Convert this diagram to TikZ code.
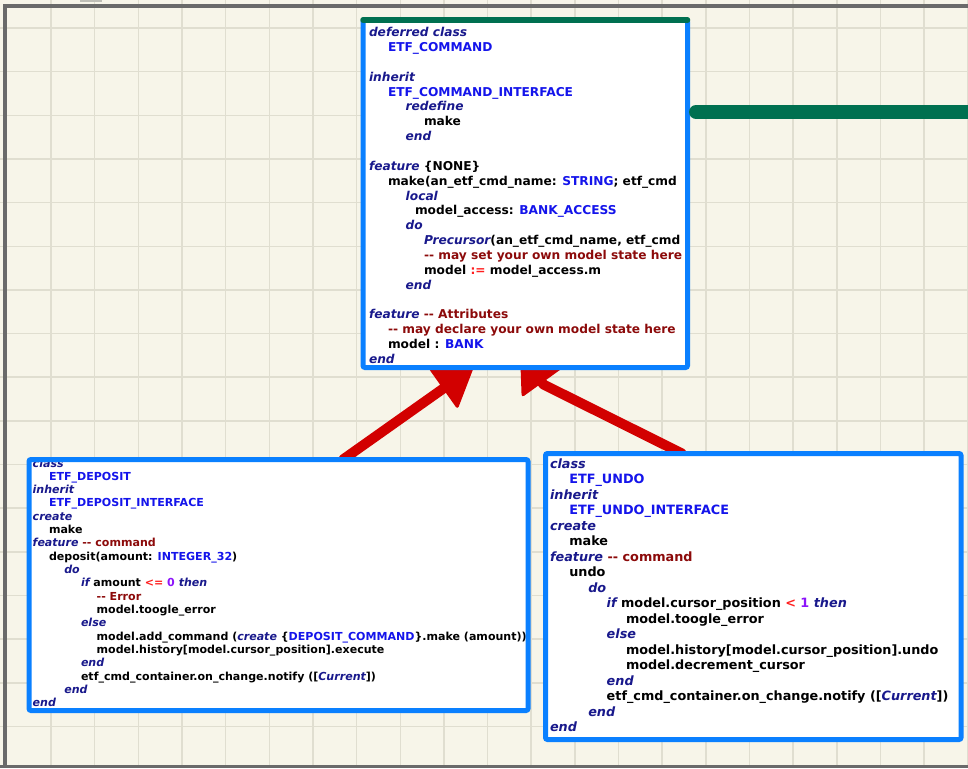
\documentclass[tikz,border=0pt]{standalone}
\usepackage{fontspec}
\newfontfamily\codefont{DejaVu Sans}[BoldFont={DejaVu Sans Bold},BoldItalicFont={DejaVu Sans Bold Oblique},ItalicFont={DejaVu Sans Oblique}]
\usetikzlibrary{arrows.meta,calc}
\definecolor{bg}{RGB}{247,245,233}
\definecolor{gridc}{RGB}{224,222,208}
\definecolor{framec}{RGB}{106,106,106}
\definecolor{tabc}{RGB}{190,190,182}
\definecolor{boxblue}{RGB}{10,128,255}
\definecolor{topgreen}{RGB}{0,112,80}
\definecolor{arrred}{RGB}{210,0,0}
\definecolor{kwc}{RGB}{25,25,140}
\definecolor{cnc}{RGB}{20,20,235}
\definecolor{cmc}{RGB}{140,10,10}
\definecolor{opc}{RGB}{255,30,30}
\definecolor{nmc}{RGB}{140,20,250}
\newcommand\ckw[1]{{\itshape\color{kwc}#1}}
\newcommand\ccn[1]{{\color{cnc}#1}}
\newcommand\ccm[1]{{\color{cmc}#1}}
\newcommand\cop[1]{{\color{opc}#1}}
\newcommand\cnb[1]{{\color{nmc}#1}}
\newcommand\cind[1]{\hspace*{#1pt}}
\tikzset{
  gridline/.style={draw=gridc, line width=1.5pt},
  framel/.style={draw=framec, line width=4pt},
  boxfill/.style={fill=white, draw=none, inner sep=0pt, outer sep=0pt, anchor=north west},
  boxborder/.style={draw=boxblue, line width=5pt, rounded corners=2pt},
  topline/.style={draw=topgreen, line width=5.5pt, line cap=round},
  greenbar/.style={draw=topgreen, line width=14pt, line cap=round},
  codetxt/.style={anchor=north west, inner sep=0pt, outer sep=0pt, align=left, text=black},
  inh/.style={draw=arrred, line width=10pt, line cap=round, line join=round,
    -{Triangle[length=38pt,width=50pt,line width=3pt,round]}},
}
\begin{document}
\begin{tikzpicture}[x=1pt,y=-1pt]
\useasboundingbox (0,0) rectangle (968,768);
\fill[bg] (0,0) rectangle (968,768);
\foreach \i in {1,...,22} \draw[gridline] ({7.4+43.65*\i},0) -- ({7.4+43.65*\i},768);
\foreach \j in {0,...,16} \draw[gridline] (0,{28+43.65*\j}) -- (968,{28+43.65*\j});
\fill[tabc] (80,0) rectangle (102,1.8);
\draw[framel] (968,6) -- (4.7,6) -- (4.7,766);
\draw[draw=framec, line width=3pt] (0,766.5) -- (968,766.5);

% boxes (fill)
\node[boxfill, minimum width=324.5pt, minimum height=347.5pt] (cmd) at (363,20) {};
\node[boxfill, minimum width=499pt, minimum height=251pt] (dep) at (29,459.5) {};
\node[boxfill, minimum width=415.5pt, minimum height=286pt] (undo) at (545.5,453.5) {};

% inheritance arrows
\draw[inh] ($(dep.north west)+(314,0)$) -- ($(cmd.south west)+(110,0)$);
\draw[inh] ($(undo.north west)+(136.5,0)$) -- ($(cmd.south west)+(180.5,17)$) -- ($(cmd.south west)+(157.7,-14.6)$);

% refill boxes over arrow ends
\fill[white] (cmd.north west) rectangle (cmd.south east);
\fill[white] (dep.north west) rectangle (dep.south east);
\fill[white] (undo.north west) rectangle (undo.south east);

% ETF_COMMAND text
\begin{scope}
\clip (cmd.north west) rectangle (cmd.south east);
\node[codetxt, font={\codefont\bfseries\fontsize{12.2pt}{14.85pt}\selectfont}] (cmdtxt) at (369,25.7) {%
\rule{0pt}{11pt}\ckw{deferred class}\\
\cind{19}\ccn{ETF\_COMMAND}\\
\mbox{}\\
\ckw{inherit}\\
\cind{19}\ccn{ETF\_COMMAND\_INTERFACE}\\
\cind{36.7}\ckw{redefine}\\
\cind{55}make\\
\cind{36.7}\ckw{end}\\
\mbox{}\\
\ckw{feature} \{NONE\}\\
\cind{19}make(an\_etf\_cmd\_name: \ccn{STRING}; etf\_cmd\\
\cind{36.7}\ckw{local}\\
\cind{46}model\_access: \ccn{BANK\_ACCESS}\\
\cind{36.7}\ckw{do}\\
\cind{55}\ckw{Precursor}(an\_etf\_cmd\_name, etf\_cmd\\
\cind{55}\ccm{-{}- may set your own model state here}\\
\cind{55}model \cop{:=} model\_access.m\\
\cind{36.7}\ckw{end}\\
\mbox{}\\
\ckw{feature} \ccm{-{}- Attributes}\\
\cind{19}\ccm{-{}- may declare your own model state here}\\
\cind{19}model : \ccn{BANK}\\
\ckw{end}};
\end{scope}

% ETF_DEPOSIT text
\begin{scope}
\clip (dep.north west) rectangle (dep.south east);
\node[codetxt, font={\codefont\bfseries\fontsize{11.05pt}{13.32pt}\selectfont}] (deptxt) at (32.7,457) {%
\rule{0pt}{10pt}\ckw{class}\\
\cind{16.3}\ccn{ETF\_DEPOSIT}\\
\ckw{inherit}\\
\cind{16.3}\ccn{ETF\_DEPOSIT\_INTERFACE}\\
\ckw{create}\\
\cind{16.3}make\\
\ckw{feature} \ccm{-{}- command}\\
\cind{16.3}deposit(amount: \ccn{INTEGER\_32})\\
\cind{31.6}\ckw{do}\\
\cind{48.3}\ckw{if} amount \cop{<=} \cnb{0} \ckw{then}\\
\cind{64}\ccm{-{}- Error}\\
\cind{64}model.toogle\_error\\
\cind{48.3}\ckw{else}\\
\cind{64}model.add\_command (\ckw{create} \{\ccn{DEPOSIT\_COMMAND}\}.make (amount))\\
\cind{64}model.history[model.cursor\_position].execute\\
\cind{48.3}\ckw{end}\\
\cind{48.3}etf\_cmd\_container.on\_change.notify ([\ckw{Current}])\\
\cind{31.6}\ckw{end}\\
\ckw{end}};
\end{scope}

% ETF_UNDO text
\begin{scope}
\clip (undo.north west) rectangle (undo.south east);
\node[codetxt, font={\codefont\bfseries\fontsize{12.8pt}{15.5pt}\selectfont}] (undotxt) at (550,457.3) {%
\rule{0pt}{11pt}\ckw{class}\\
\cind{19.3}\ccn{ETF\_UNDO}\\
\ckw{inherit}\\
\cind{19.3}\ccn{ETF\_UNDO\_INTERFACE}\\
\ckw{create}\\
\cind{19.3}make\\
\ckw{feature} \ccm{-{}- command}\\
\cind{19.3}undo\\
\cind{38.3}\ckw{do}\\
\cind{56.7}\ckw{if} model.cursor\_position \cop{<} \cnb{1} \ckw{then}\\
\cind{76}model.toogle\_error\\
\cind{56.7}\ckw{else}\\
\cind{76}model.history[model.cursor\_position].undo\\
\cind{76}model.decrement\_cursor\\
\cind{56.7}\ckw{end}\\
\cind{56.7}etf\_cmd\_container.on\_change.notify ([\ckw{Current}])\\
\cind{38.3}\ckw{end}\\
\ckw{end}};
\end{scope}

% borders
\draw[boxborder] (cmd.north west) rectangle (cmd.south east);
\draw[topline] (cmd.north west) -- (cmd.north east);
\draw[boxborder] (dep.north west) rectangle (dep.south east);
\draw[boxborder] (undo.north west) rectangle (undo.south east);

% green association bar
\coordinate (gA) at ($(cmd.north east)+(8.5,92)$);
\coordinate (gB) at (985,112);
\draw[greenbar] (gA) -- (gB);
\end{tikzpicture}
\end{document}
